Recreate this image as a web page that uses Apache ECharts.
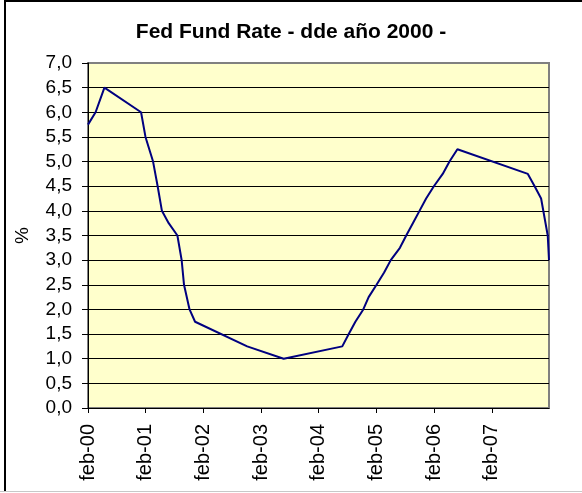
<!doctype html>
<html>
<head>
    <meta charset="utf-8">
    <title>Fed Fund Rate</title>
    <script src="https://cdn.jsdelivr.net/npm/echarts@6/dist/echarts.min.js"></script>
</head>
<body style="margin:0;">

    <div id="main" style="width:582px;height:493px;"></div>

    <script type="text/javascript">
        // fed funds target changes, feb 2000 - jan 2008
        var dates = [
            '2000-02-02', '2000-03-21', '2000-05-16', '2001-01-03', '2001-01-31',
            '2001-03-20', '2001-04-18', '2001-05-15', '2001-06-27', '2001-08-21',
            '2001-09-17', '2001-10-02', '2001-11-06', '2001-12-11', '2002-11-06',
            '2003-06-25', '2004-06-30', '2004-08-10', '2004-09-21', '2004-11-10',
            '2004-12-14', '2005-02-02', '2005-03-22', '2005-05-03', '2005-06-30',
            '2005-08-09', '2005-09-20', '2005-11-01', '2005-12-13', '2006-01-31',
            '2006-03-28', '2006-05-10', '2006-06-29', '2007-09-18', '2007-10-31',
            '2007-12-11', '2008-01-22', '2008-01-30'
        ];
        var rates = [
            5.75, 6.00, 6.50, 6.00, 5.50,
            5.00, 4.50, 4.00, 3.75, 3.50,
            3.00, 2.50, 2.00, 1.75, 1.25,
            1.00, 1.25, 1.50, 1.75, 2.00,
            2.25, 2.50, 2.75, 3.00, 3.25,
            3.50, 3.75, 4.00, 4.25, 4.50,
            4.75, 5.00, 5.25, 4.75, 4.50,
            4.25, 3.50, 3.00
        ];
        var tickLabels = ['feb-00', 'feb-01', 'feb-02', 'feb-03', 'feb-04', 'feb-05', 'feb-06', 'feb-07'];

        var origin = Date.parse(dates[0]);
        var YEAR = 365.25 * 86400000;
        function toYears(d) {
            return (Date.parse(d) - origin) / YEAR;
        }

        var data = [];
        for (var i = 0; i < dates.length; i++) {
            data.push([toYears(dates[i]), rates[i]]);
        }
        var tickValues = tickLabels.map(function (l, i) { return i; });

        var font = 'Liberation Sans, Arial, sans-serif';
        var chart = echarts.init(document.getElementById('main'));

        var option = {
            animation: false,
            backgroundColor: '#fff',
            title: {
                text: 'Fed Fund Rate - dde año 2000 -',
                left: 'center',
                top: 17,
                textStyle: { fontFamily: font, fontSize: 21, fontWeight: 'bold', color: '#000' }
            },
            graphic: [
                { type: 'line', shape: { x1: 4, y1: 1, x2: 582, y2: 1 }, style: { stroke: '#000', lineWidth: 2 } },
                { type: 'line', shape: { x1: 5, y1: 0, x2: 5, y2: 491 }, style: { stroke: '#000', lineWidth: 2 } },
                { type: 'line', shape: { x1: 0, y1: 491.5, x2: 582, y2: 491.5 }, style: { stroke: '#c8c8c8', lineWidth: 1 } }
            ],
            grid: {
                left: 88,
                right: 33,
                top: 63,
                bottom: 85,
                show: true,
                backgroundColor: '#FFFFCC',
                borderColor: '#808080',
                borderWidth: 2
            },
            xAxis: {
                type: 'value',
                min: 0,
                max: 'dataMax',
                axisLine: { show: true, lineStyle: { color: '#000', width: 1 } },
                axisTick: { show: true, length: 5, customValues: tickValues, lineStyle: { color: '#000' } },
                axisLabel: {
                    customValues: tickValues,
                    rotate: 90,
                    margin: 16,
                    fontFamily: font,
                    fontSize: 20,
                    color: '#000',
                    formatter: function (v) { return tickLabels[Math.round(v)]; }
                },
                splitLine: { show: false }
            },
            yAxis: {
                type: 'value',
                min: 0,
                max: 7,
                interval: 0.5,
                name: '%',
                nameLocation: 'middle',
                nameRotate: 90,
                nameGap: 56,
                nameTextStyle: { fontFamily: font, fontSize: 19, color: '#000' },
                axisLine: { show: true, lineStyle: { color: '#000', width: 1 } },
                axisTick: { show: true, length: 6, lineStyle: { color: '#000' } },
                axisLabel: {
                    margin: 16,
                    fontFamily: font,
                    fontSize: 19,
                    color: '#000',
                    formatter: function (v) { return v.toFixed(1).replace('.', ','); }
                },
                splitLine: { show: true, showMaxLine: false, lineStyle: { color: '#000', width: 1 } }
            },
            series: [{
                type: 'line',
                data: data,
                showSymbol: false,
                lineStyle: { color: '#000080', width: 2 }
            }]
        };

        chart.setOption(option);
    </script>
</body>
</html>
